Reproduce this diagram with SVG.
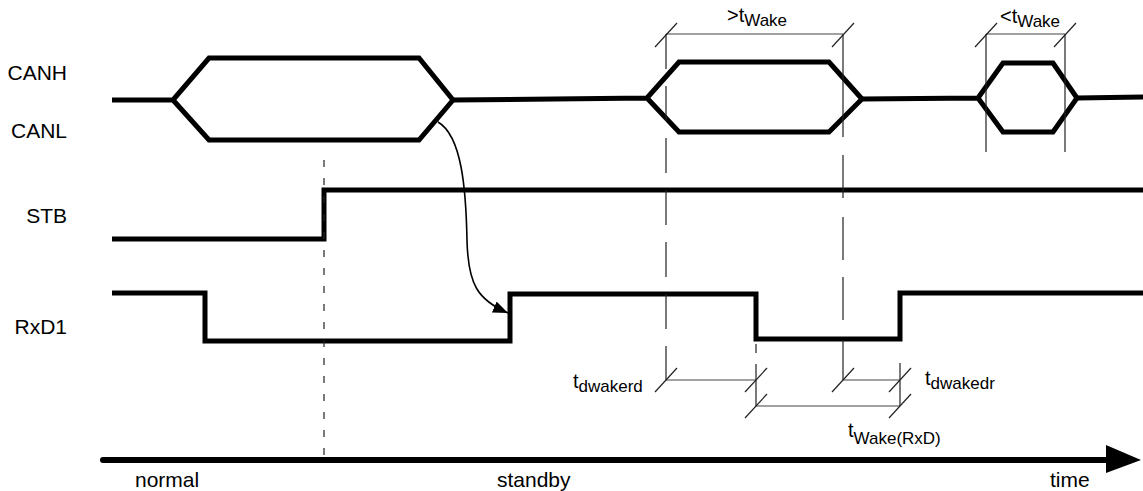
<svg xmlns="http://www.w3.org/2000/svg" width="1143" height="491" viewBox="0 0 1143 491">
<style>
.lbl{font-family:"Liberation Sans",Arial,sans-serif;font-size:21px;fill:#000}
.tl{font-family:"Liberation Sans",Arial,sans-serif;font-size:20px;fill:#000}
.sub{font-size:17px}
.sig{fill:none;stroke:#000;stroke-width:5;stroke-linejoin:miter;stroke-linecap:butt}
.thin{fill:none;stroke:#222;stroke-width:1.2}
.dim{fill:none;stroke:#444;stroke-width:1.2}
.tick{fill:none;stroke:#222;stroke-width:1.2}
</style>
<defs>
<marker id="ah" markerUnits="userSpaceOnUse" markerWidth="16" markerHeight="12" refX="15" refY="6" orient="auto">
<path d="M0,0 L15,6 L0,12 z" fill="#000"/>
</marker>
<path id="tk" d="M-11,12 L11,-12"/>
</defs>
<rect width="1143" height="491" fill="#fff"/>

<g id="labels">
<text class="lbl" x="67" y="80" text-anchor="end">CANH</text>
<text class="lbl" x="67" y="138" text-anchor="end">CANL</text>
<text class="lbl" x="67" y="223" text-anchor="end">STB</text>
<text class="lbl" x="67" y="334" text-anchor="end">RxD1</text>
</g>

<g id="can">
<path class="sig" d="M112,100 L173,100 L209,58 L419,58 L453,100 L419,140 L209,140 L173,100" stroke-linecap="round"/>
<path class="sig" d="M453,100 L647,98 L679,62 L829,62 L862,99 L829,132 L679,132 L647,98"/>
<path class="sig" d="M862,99 L978,98 L1003,63 L1053,63 L1077,98 L1053,132 L1003,132 L978,98"/>
<path class="sig" d="M1077,98 L1143,97"/>
</g>

<g id="stb">
<path class="sig" d="M112,239 L324,239 L324,190 L1143,190" stroke-linecap="round"/>
</g>

<g id="rxd1">
<path class="sig" d="M112,293 L205,293 L205,341 L510,341 L510,294 L756,294 L756,339 L900,339 L900,293 L1143,293" stroke-linecap="round"/>
</g>

<g id="markers-vertical">
<path class="thin" d="M324,160 V466" stroke-dasharray="7 11"/>
<path class="thin" d="M666,34 V380" stroke-dasharray="35 17"/>
<path class="thin" d="M843,34 V137 M843,155 V198 M843,217 V260 M843,277 V320 M843,340 V380"/>
<path class="thin" d="M986,34 V152 M1065,34 V152"/>
<path class="thin" d="M756,344 V353 M756,364 V406"/>
<path class="thin" d="M900,363 V406"/>
</g>

<g id="dimensions">
<path class="dim" d="M666,34 H843 M986,34 H1065 M666,380 H756 M843,380 H900 M756,406 H900"/>
<use href="#tk" class="tick" x="666" y="35"/>
<use href="#tk" class="tick" x="843" y="35"/>
<use href="#tk" class="tick" x="986" y="35"/>
<use href="#tk" class="tick" x="1065" y="35"/>
<use href="#tk" class="tick" x="666" y="380"/>
<use href="#tk" class="tick" x="756" y="380"/>
<use href="#tk" class="tick" x="843" y="380"/>
<use href="#tk" class="tick" x="900" y="380"/>
<use href="#tk" class="tick" x="756" y="406"/>
<use href="#tk" class="tick" x="900" y="406"/>
<text class="tl" x="727" y="22">&gt;t<tspan class="sub" dy="4">Wake</tspan></text>
<text class="tl" x="1000" y="23">&lt;t<tspan class="sub" dy="4">Wake</tspan></text>
<text class="tl" x="573" y="388">t<tspan class="sub" dy="4">dwakerd</tspan></text>
<text class="tl" x="925" y="385">t<tspan class="sub" dy="4">dwakedr</tspan></text>
<text class="tl" x="848" y="437">t<tspan class="sub" dy="7">Wake(RxD)</tspan></text>
</g>

<g id="time-axis">
<path d="M103,460 H1110" fill="none" stroke="#000" stroke-width="6" stroke-linecap="round"/>
<path d="M1106,445 L1141,460 L1106,473 z" fill="#000"/>
<text class="lbl" x="135" y="487">normal</text>
<text class="lbl" x="497" y="487">standby</text>
<text class="lbl" x="1050" y="487">time</text>
</g>

<g id="connectors">
<path d="M438,122 C462,136 466,190 467,240 C468,285 478,300 508,313" fill="none" stroke="#000" stroke-width="1.6" marker-end="url(#ah)"/>
</g>
</svg>
